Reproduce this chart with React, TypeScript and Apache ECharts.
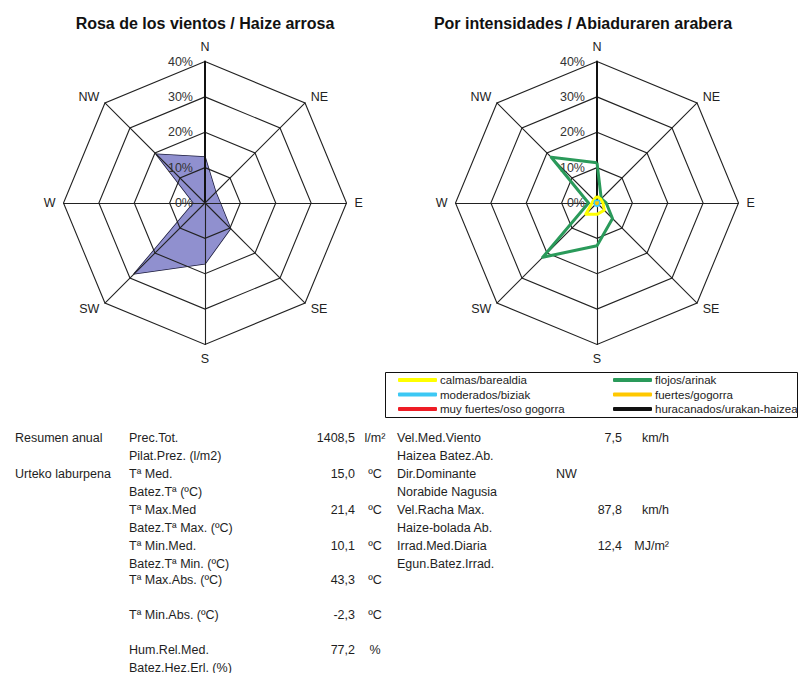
import React, { useEffect, useRef } from 'react';
import * as echarts from 'echarts';

// ---- data ----
const directions = ['N', 'NW', 'W', 'SW', 'S', 'SE', 'E', 'NE'];
const axisMin = 0;
const axisMax = 40;
const axisSplits = 4;

const roseTitle = 'Rosa de los vientos / Haize arrosa';
const intensTitle = 'Por intensidades / Abiaduraren arabera';

// frequency (%) per direction, order as `directions`
const roseFreq = [13.0, 19.5, 3.2, 28.3, 17.2, 10.2, 4.3, 4.3];

const calmas = [1.9, 1.3, 1.4, 4.5, 3.2, 2.9, 1.7, 1.5];
const flojos = [11.4, 18.3, 2.4, 21.7, 12.1, 6.2, 2.6, 1.7];
const moderados = [0.8, 0.7, 0.6, 0.7, 0.8, 0.7, 0.6, 0.7];
const fuertes = [0.2, 0.2, 0.1, 0.2, 0.2, 0.1, 0.1, 0.2];
const muyFuertes = [0, 0, 0, 0, 0, 0, 0, 0];
const huracanados = [0, 0, 0, 0, 0, 0, 0, 0];

const intensNames = [
  'calmas/barealdia',
  'flojos/arinak',
  'moderados/biziak',
  'fuertes/gogorra',
  'muy fuertes/oso gogorra',
  'huracanados/urakan-haizea',
];
const intensValues = [calmas, flojos, moderados, fuertes, muyFuertes, huracanados];
const intensColors = ['#ffff00', '#2a9a5a', '#3cc8f4', '#ffc800', '#ee1c25', '#111111'];
// drawing order (first drawn = bottom)
const drawOrder = [4, 5, 1, 0, 2, 3];
const legendCol1 = [intensNames[0], intensNames[2], intensNames[4]];
const legendCol2 = [intensNames[1], intensNames[3], intensNames[5]];

// summary table
const sumHeads = ['Resumen anual', 'Urteko laburpena'];
const climLabels = ['Prec.Tot.', 'Tª Med.', 'Tª Max.Med', 'Tª Min.Med.', 'Tª Max.Abs. (ºC)', 'Tª Min.Abs. (ºC)', 'Hum.Rel.Med.'];
const climSubLabels = ['Pilat.Prez. (l/m2)', 'Batez.Tª (ºC)', 'Batez.Tª Max. (ºC)', 'Batez.Tª Min. (ºC)', '', '', 'Batez.Hez.Erl. (%)'];
const climValues = ['1408,5', '15,0', '21,4', '10,1', '43,3', '-2,3', '77,2'];
const climUnits = ['l/m²', 'ºC', 'ºC', 'ºC', 'ºC', 'ºC', '%'];

const windLabels = ['Vel.Med.Viento', 'Dir.Dominante', 'Vel.Racha Max.', 'Irrad.Med.Diaria'];
const windSubLabels = ['Haizea Batez.Ab.', 'Norabide Nagusia', 'Haize-bolada Ab.', 'Egun.Batez.Irrad.'];
const windValues = ['7,5', '', '87,8', '12,4'];
const windDir = ['', 'NW', '', ''];
const windUnits = ['km/h', '', 'km/h', 'MJ/m²'];

// ---- layout ----
const FONT = '"Liberation Sans", Arial, Helvetica, sans-serif';
const TXT = '#1e1e1e';
const LEFT_C = [205, 203];
const RIGHT_C = [597, 203];
const RADIUS = 141.5;
const climRowY = [438, 474, 510, 546, 580, 615, 650];
const windRowY = [438, 474, 510, 546];
const SUB_DY = 17.5;

function makeRadar(center: number[], z: number) {
  return {
    center,
    radius: RADIUS,
    startAngle: 90,
    shape: 'polygon',
    splitNumber: axisSplits,
    z,
    nameGap: 8,
    axisName: { color: '#222', fontSize: 12.5, fontFamily: FONT },
    splitLine: { lineStyle: { color: '#222', width: 1.1 } },
    splitArea: { show: false },
    axisLine: { lineStyle: { color: '#222', width: 1.1 } },
    axisTick: { show: false },
    axisLabel: { show: false },
    indicator: directions.map((d, i) =>
      i === 0
        ? {
            name: d,
            min: axisMin,
            max: axisMax,
            axisLine: { lineStyle: { color: '#111', width: 2 } },
            axisLabel: {
              show: true,
              margin: 12,
              fontSize: 12.5,
              fontFamily: FONT,
              color: '#333',
              formatter: (v: number) => `${v}%`,
            },
          }
        : { name: d, min: axisMin, max: axisMax }
    ),
  };
}

function txt(text: string, x: number, y: number, align = 'left', size = 12.5, weight = 'normal') {
  return {
    type: 'text',
    x,
    y,
    silent: true,
    style: {
      text,
      fill: TXT,
      fontSize: size,
      fontFamily: FONT,
      fontWeight: weight,
      textAlign: align,
      textVerticalAlign: 'middle',
    },
  };
}

export default function App() {
  const ref = useRef<HTMLDivElement>(null);
  useEffect(() => {
    if (!ref.current) return;
    const chart = echarts.init(ref.current, undefined, { renderer: 'svg' });

    const graphics: any[] = [];
    graphics.push({
      type: 'rect',
      shape: { x: 385.5, y: 372.5, width: 412, height: 45 },
      style: { fill: 'none', stroke: '#111', lineWidth: 1 },
      silent: true,
    });
    sumHeads.forEach((h, i) => graphics.push(txt(h, 15, climRowY[i])));
    climLabels.forEach((l, i) => {
      graphics.push(txt(l, 129, climRowY[i]));
      if (climSubLabels[i]) graphics.push(txt(climSubLabels[i], 129, climRowY[i] + SUB_DY));
      graphics.push(txt(climValues[i], 355, climRowY[i], 'right'));
      graphics.push(txt(climUnits[i], 375, climRowY[i], 'center'));
    });
    windLabels.forEach((l, i) => {
      graphics.push(txt(l, 397, windRowY[i]));
      graphics.push(txt(windSubLabels[i], 397, windRowY[i] + SUB_DY));
      if (windValues[i]) graphics.push(txt(windValues[i], 622, windRowY[i], 'right'));
      if (windDir[i]) graphics.push(txt(windDir[i], 556, windRowY[i]));
      if (windUnits[i]) graphics.push(txt(windUnits[i], 669, windRowY[i], 'right'));
    });

    const legendBase = {
      orient: 'vertical',
      top: 374,
      padding: 0,
      itemWidth: 39,
      itemHeight: 4,
      itemGap: 2.5,
      icon: 'roundRect',
      selectedMode: false,
      textStyle: { fontSize: 11.5, fontFamily: FONT, color: '#222', padding: [0, 0, 0, -2] },
    };

    const option: any = {
      animation: false,
      backgroundColor: '#ffffff',
      title: [
        {
          text: roseTitle,
          left: 205,
          top: 15,
          padding: 0,
          textAlign: 'center',
          textStyle: { fontSize: 16, fontWeight: 'bold', fontFamily: FONT, color: '#111' },
        },
        {
          text: intensTitle,
          left: 583,
          top: 15,
          padding: 0,
          textAlign: 'center',
          textStyle: { fontSize: 16, fontWeight: 'bold', fontFamily: FONT, color: '#111' },
        },
      ],
      legend: [
        { ...legendBase, left: 398, data: legendCol1 },
        { ...legendBase, left: 613, data: legendCol2 },
      ],
      radar: [makeRadar(LEFT_C, 5), makeRadar(RIGHT_C, 0)],
      series: [
        {
          type: 'radar',
          name: 'Frecuencia',
          radarIndex: 0,
          symbol: 'none',
          z: 2,
          itemStyle: { color: '#9090cf' },
          lineStyle: { color: '#1a1a3a', width: 1.5 },
          areaStyle: { color: '#9090cf', opacity: 1 },
          data: [{ name: 'Frecuencia', value: roseFreq }],
        },
        ...drawOrder.map((k) => ({
          type: 'radar',
          name: intensNames[k],
          radarIndex: 1,
          symbol: 'none',
          z: 2,
          itemStyle: { color: intensColors[k] },
          lineStyle: { color: intensColors[k], width: 3 },
          data: [{ name: intensNames[k], value: intensValues[k] }],
        })),
      ],
      graphic: graphics,
    };
    chart.setOption(option);
    return () => chart.dispose();
  }, []);

  return (
    <div
      ref={ref}
      style={{ position: 'fixed', left: 0, top: 0, width: 803, height: 673, background: '#fff' }}
    />
  );
}
